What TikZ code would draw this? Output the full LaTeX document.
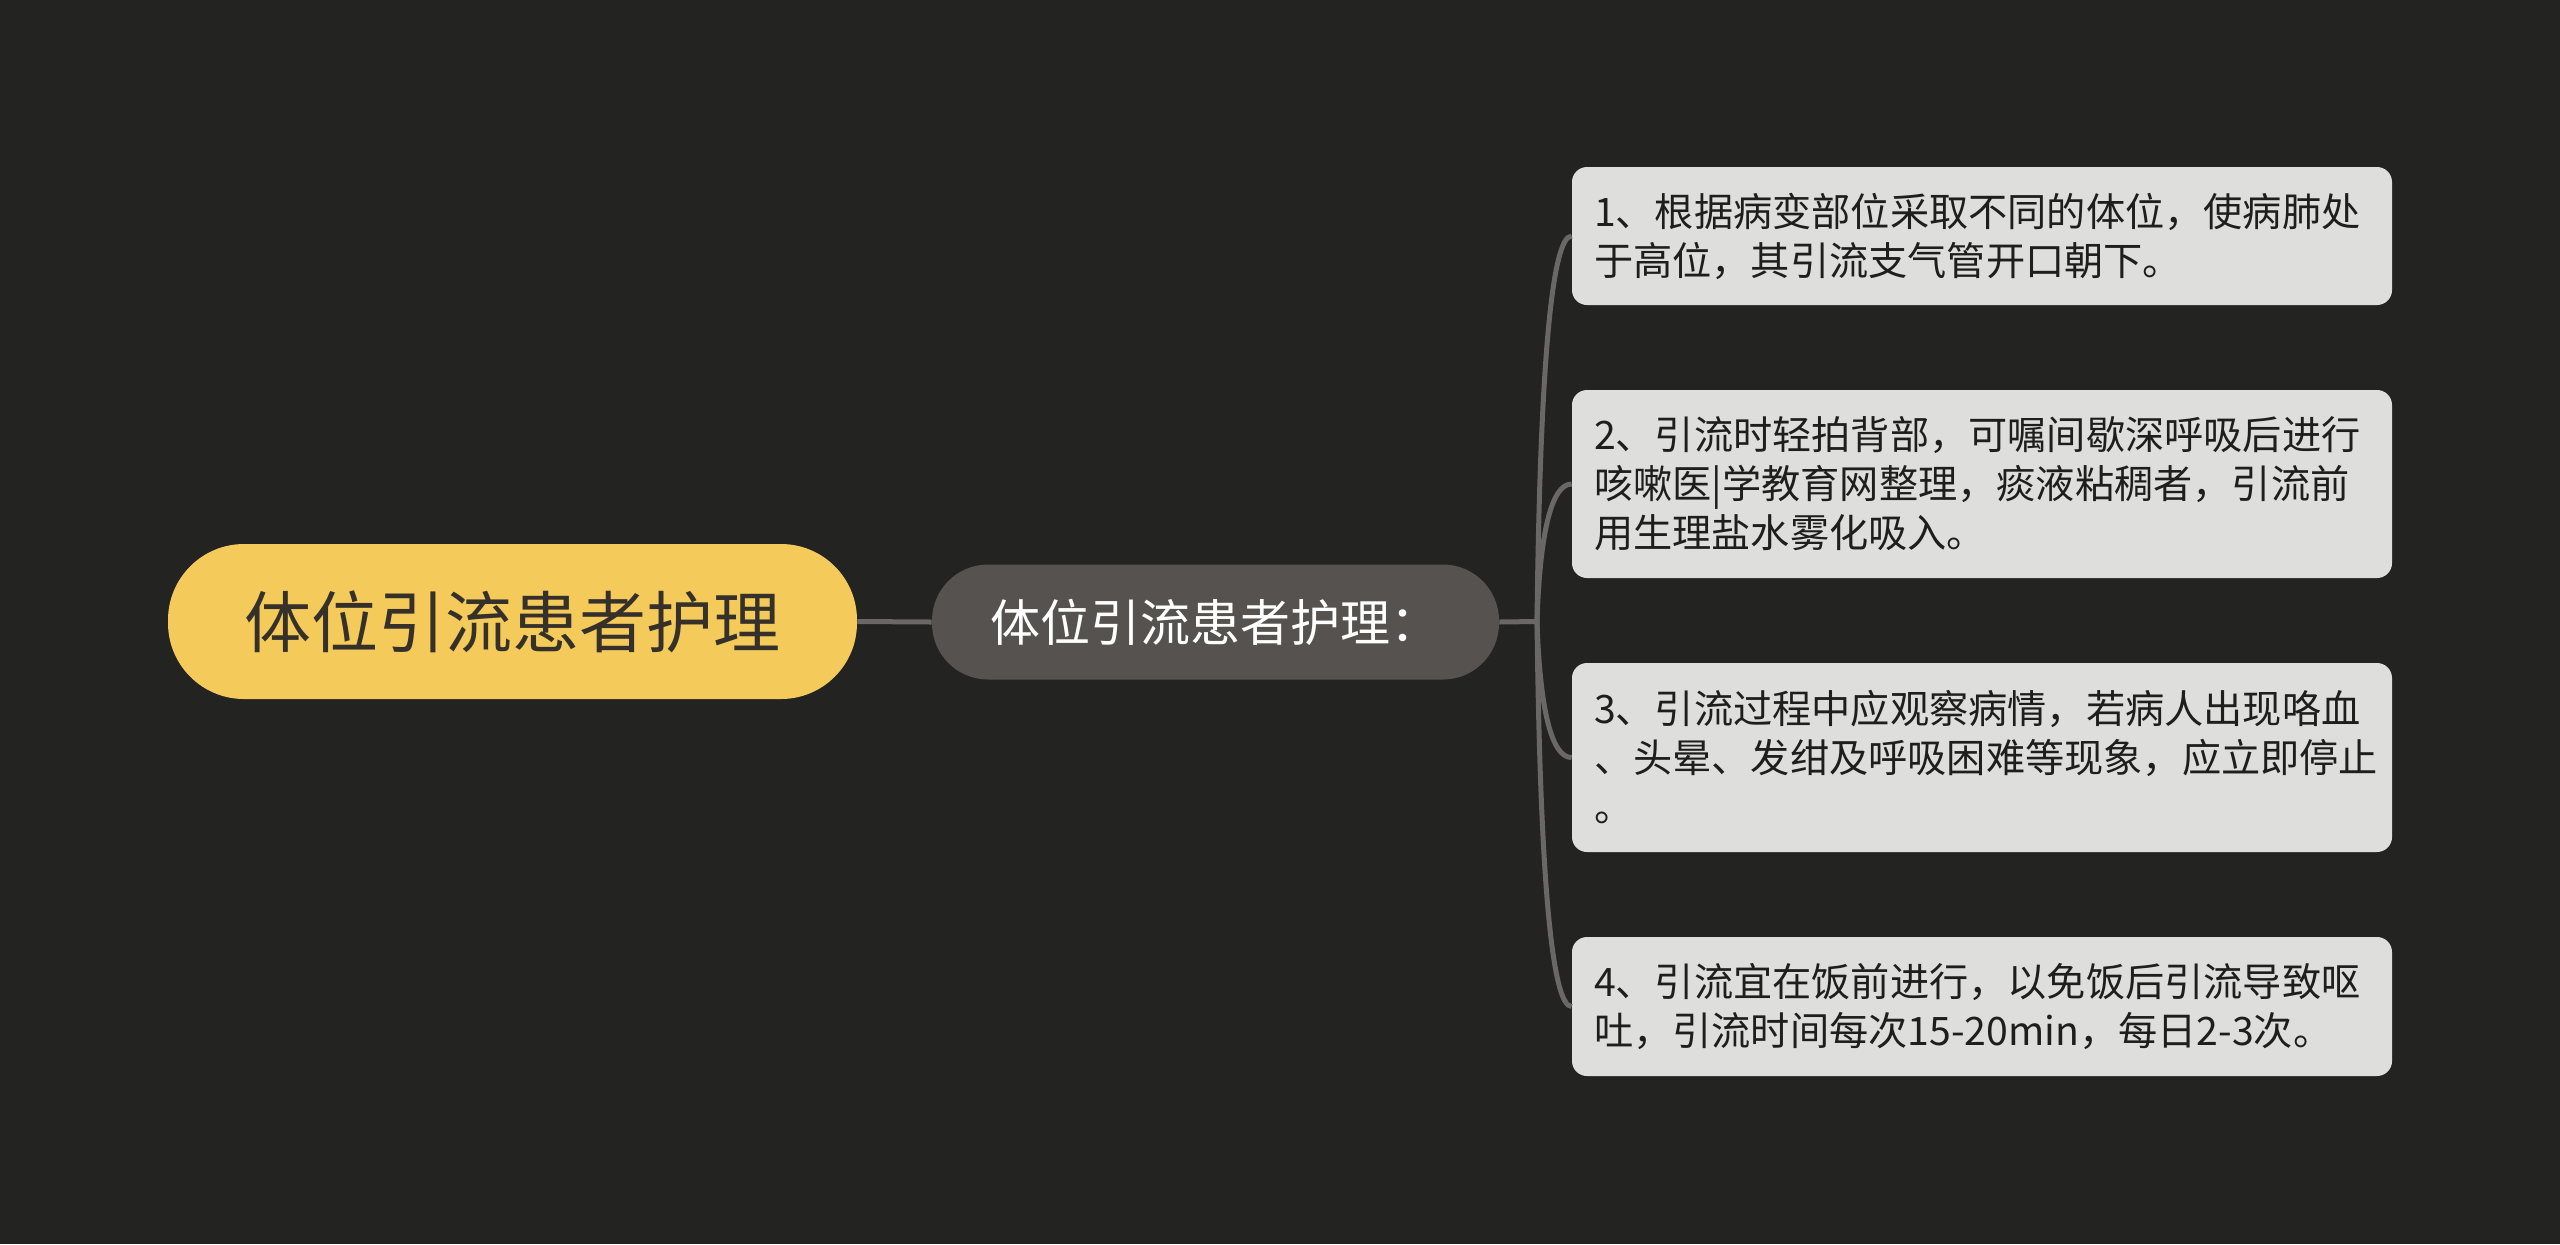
\documentclass[tikz,border=0pt]{standalone}
\usepackage{fontspec}
\setmainfont{Noto Sans CJK SC}
\definecolor{bgdark}{HTML}{232322}
\definecolor{rootfill}{HTML}{F4CB5B}
\definecolor{roottext}{HTML}{35302A}
\definecolor{midfill}{HTML}{55524F}
\definecolor{leaffill}{HTML}{DEDEDC}
\definecolor{leaftext}{HTML}{1E1E1E}
\definecolor{linkgray}{HTML}{6A6866}
\begin{document}
\begin{tikzpicture}[x=0.5pt,y=-0.5pt,
  rootbox/.style={fill=rootfill, rounded corners=38pt, minimum width=344.5pt, minimum height=77.5pt,
    inner sep=0pt, text=roottext, font=\fontsize{33.5}{40}\selectfont},
  midbox/.style={fill=midfill, rounded corners=28pt, minimum width=283.5pt, minimum height=57.5pt,
    inner sep=0pt, text=white, font=\fontsize{25}{30}\selectfont},
  leafbox/.style={fill=leaffill, rounded corners=7.5pt, minimum width=410pt, text width=392pt,
    inner xsep=9pt, inner ysep=0pt, align=left, text=leaftext, font=\fontsize{19.6}{24.5}\selectfont},
  link/.style={draw=linkgray, line width=2.5pt}
]
\fill[bgdark] (0,0) rectangle (2560,1244);
\useasboundingbox (0,0) rectangle (2560,1244);

\node[rootbox] (root) at (512.5,621.5) {体位引流患者护理};
\node[midbox] (mid) at (1215.5,622) {体位引流患者护理：};

\node[leafbox, minimum height=69pt] (l1) at (1982,236) {\hspace*{2pt}1、根据病变部位采取不同的体位，使病肺处\\\hspace*{2pt}于高位，其引流支气管开口朝下。};
\node[leafbox, minimum height=94pt] (l2) at (1982,484) {\hspace*{2pt}2、引流时轻拍背部，可嘱间歇深呼吸后进行\\\hspace*{2pt}咳嗽医|学教育网整理，痰液粘稠者，引流前\\\hspace*{2pt}用生理盐水雾化吸入。};
\node[leafbox, minimum height=94.5pt] (l3) at (1982,757.5) {\hspace*{2pt}3、引流过程中应观察病情，若病人出现咯血\\\hspace*{2pt}、头晕、发绀及呼吸困难等现象，应立即停止\\\hspace*{2pt}。};
\node[leafbox, minimum height=69.5pt] (l4) at (1982,1006.5) {\hspace*{2pt}4、引流宜在饭前进行，以免饭后引流导致呕\\\hspace*{2pt}吐，引流时间每次15-20min，每日2-3次。};

\coordinate (j) at (1537,621.5);

\draw[link] (root.east) -- (mid.west);
\draw[link] (mid.east) -- (j);
\draw[link] (j) .. controls (1540,364) and (1552,236) .. (l1.west);
\draw[link] (j) .. controls (1540,530) and (1552,484) .. (l2.west);
\draw[link] (j) .. controls (1540,712) and (1552,757.5) .. (l3.west);
\draw[link] (j) .. controls (1540,878) and (1552,1006.5) .. (l4.west);
\end{tikzpicture}
\end{document}
